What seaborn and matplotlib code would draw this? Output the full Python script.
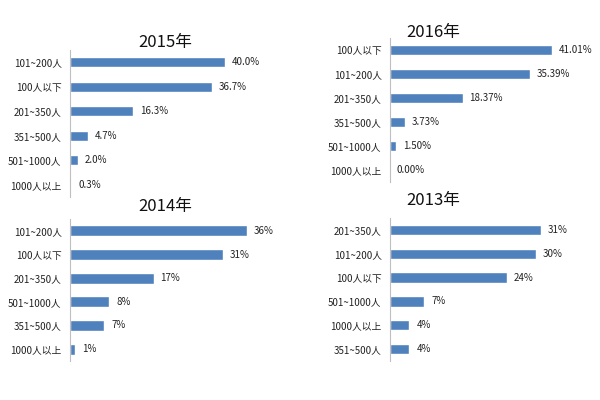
import matplotlib
matplotlib.use("Agg")
import matplotlib.pyplot as plt
import seaborn as sns
import pandas as pd

sns.set_style("white")
plt.rcParams['font.family'] = ['Noto Sans CJK SC', 'DejaVu Sans']

cats_2015 = ["101~200人", "100人以下", "201~350人", "351~500人", "501~1000人", "1000人以上"]
vals_2015 = [40.0, 36.7, 16.3, 4.7, 2.0, 0.3]

cats_2016 = ["100人以下", "101~200人", "201~350人", "351~500人", "501~1000人", "1000人以上"]
vals_2016 = [41.01, 35.39, 18.37, 3.73, 1.50, 0.00]

cats_2014 = ["101~200人", "100人以下", "201~350人", "501~1000人", "351~500人", "1000人以上"]
vals_2014 = [36, 31, 17, 8, 7, 1]

cats_2013 = ["201~350人", "101~200人", "100人以下", "501~1000人", "1000人以上", "351~500人"]
vals_2013 = [31, 30, 24, 7, 4, 4]

titles = ["2015年", "2016年", "2014年", "2013年"]

W, H = 600, 400
fig = plt.figure(figsize=(6, 4), dpi=100)
fig.patch.set_facecolor("white")

# (categories, values, fmt, title, left px, top px, bottom px, width px, px per %, title x, title y, bar width)
panels = [
    (cats_2015, vals_2015, "{:.1f}%", titles[0], 70, 50, 197, 200, 3.875, 165, 42, 0.42),
    (cats_2016, vals_2016, "{:.2f}%", titles[1], 390, 38, 182, 200, 3.95, 433, 33, 0.42),
    (cats_2014, vals_2014, "{:.0f}%", titles[2], 70, 219, 361, 200, 4.92, 165, 207, 0.46),
    (cats_2013, vals_2013, "{:.0f}%", titles[3], 390, 218, 361, 200, 4.87, 433, 200, 0.44),
]

color = "#4F81BD"
for cats, vals, fmt, title, lx, ty, by, wpx, scale, tx, tyy, bw in panels:
    ax = fig.add_axes([lx / W, 1 - by / H, wpx / W, (by - ty) / H])
    df = pd.DataFrame({"cat": cats, "val": vals})
    sns.barplot(data=df, y="cat", x="val", orient="h", color=color,
                width=bw, ax=ax, saturation=1)
    ax.set_xlim(0, wpx / scale)
    ax.set_ylim(5.5, -0.5)
    ax.set_xlabel("")
    ax.set_ylabel("")
    ax.set_xticks([])
    ax.tick_params(axis="y", length=0, labelsize=7, pad=6, colors="#222222")
    for s in ["top", "right", "bottom"]:
        ax.spines[s].set_visible(False)
    ax.spines["left"].set_color("#BFBFBF")
    ax.spines["left"].set_linewidth(0.8)
    ax.bar_label(ax.containers[0], labels=[fmt.format(v) for v in vals],
                 padding=5, fontsize=7, color="#222222")
    fig.text(tx / W, 1 - tyy / H, title, ha="center", va="center",
             fontsize=12, color="#111111")

fig.savefig("out.png", dpi=100, facecolor="white")
